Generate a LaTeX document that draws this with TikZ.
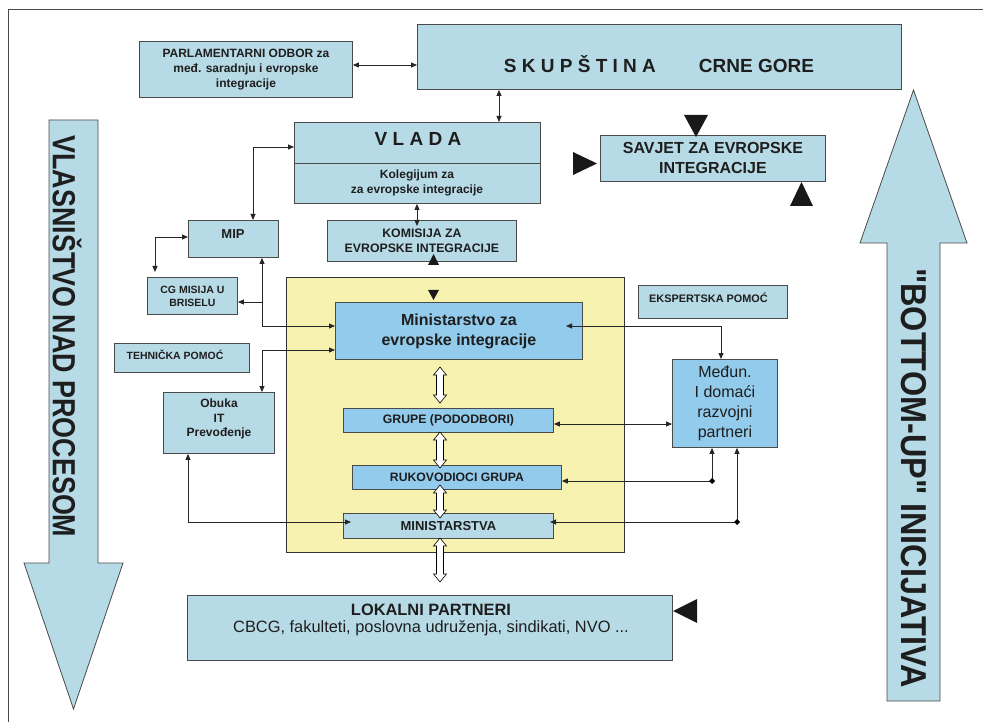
\documentclass[tikz,border=0pt]{standalone}
\usepackage{fontspec}
\setmainfont{Liberation Sans}
\newfontfamily\narrowa[FakeStretch=0.84]{Liberation Sans}
\newfontfamily\narrowb[FakeStretch=0.9]{Liberation Sans}
\usetikzlibrary{arrows.meta}
\definecolor{lb}{HTML}{B7DBE6}
\definecolor{mb}{HTML}{92CBEC}
\definecolor{yl}{HTML}{F8F2B0}
\definecolor{bd}{HTML}{4A4A4A}
\definecolor{tx}{HTML}{1E1E1E}
\newcommand{\hollowarr}[3]{%
  \draw[hollow] (#1,#2) -- ++(6.5,8) -- ++(-3,0) -- ++(0,{#3-#2-16}) -- ++(3,0) -- ++(-6.5,8) -- ++(-6.5,-8) -- ++(3,0) -- ++(0,{#2-#3+16}) -- ++(-3,0) -- cycle;}
\begin{document}
\begin{tikzpicture}[x=1pt,y=-1pt,
  box/.style={draw=bd, line width=0.9pt, fill=lb, anchor=north west, inner sep=0pt, align=center, text=tx},
  mbox/.style={box, fill=mb},
  lbl/.style={text=tx, align=center, inner sep=0pt},
  conn/.style={draw=black!85, line width=0.8pt},
  >={Triangle[length=6pt,width=5pt]},
  hollow/.style={draw=black, fill=white, line width=0.6pt, line join=miter},
  tri/.style={fill=black!90},
  big/.style={fill=lb, draw=bd, line width=0.8pt}
]
\useasboundingbox (0,0) rectangle (983,722);
\fill[white] (0,0) rectangle (983,722);
\draw[bd, line width=0.8pt] (983,9) -- (8,9) -- (8,722);

% big arrows
\draw[big] (49,120) -- (98,120) -- (98,563) -- (123,563) -- (73.5,709) -- (24,563) -- (49,563) -- cycle;
\draw[big] (887,701) -- (940,701) -- (940,243) -- (967,243) -- (913.5,90) -- (860,243) -- (887,243) -- cycle;
\node[lbl, rotate=-90, font=\narrowa\bfseries\fontsize{32pt}{36pt}\selectfont] (ltext) at (67,336.5) {VLASNIŠTVO NAD PROCESOM};
\node[lbl, rotate=-90, font=\narrowb\bfseries\fontsize{36pt}{40pt}\selectfont] (rtext) at (913.5,478) {"BOTTOM-UP" INICIJATIVA};

% yellow area
\node[box, fill=yl, draw=black!80, minimum width=338pt, minimum height=275pt] (yel) at (286,277) {};

% boxes
\node[box, minimum width=213pt, minimum height=56pt, font=\bfseries\fontsize{12pt}{15pt}\selectfont] (parl) at (139,41) {PARLAMENTARNI ODBOR za\\međ. saradnju i evropske\\integracije};
\node[box, minimum width=484pt, minimum height=65pt] (skup) at (417,24) {};
\node[lbl, font=\bfseries\fontsize{19pt}{23pt}\selectfont] (skupt) at (659,64) {S K U P Š T I N A\hspace{43pt}CRNE GORE};
\node[box, minimum width=246pt, minimum height=81pt] (vlada) at (294,122) {};
\draw[bd, line width=0.9pt] (vlada.west |- 0,163) -- (vlada.east |- 0,163);
\node[lbl, font=\bfseries\fontsize{19pt}{23pt}\selectfont] (vladat) at (418,139) {V L A D A};
\node[lbl, font=\bfseries\fontsize{12pt}{15pt}\selectfont] (kolt) at (417,183) {Kolegijum za\\za evropske integracije};
\node[box, minimum width=225pt, minimum height=46pt, font=\bfseries\fontsize{16pt}{20pt}\selectfont] (savjet) at (600,135) {SAVJET ZA EVROPSKE\\INTEGRACIJE};
\node[box, minimum width=90pt, minimum height=37pt] (mip) at (188,220) {};
\node[lbl, font=\bfseries\fontsize{13pt}{15pt}\selectfont] (mipt) at (233,234) {MIP};
\node[box, minimum width=189pt, minimum height=41pt, font=\bfseries\fontsize{12.3pt}{15pt}\selectfont] (kom) at (327,220) {KOMISIJA ZA\\EVROPSKE INTEGRACIJE};
\node[box, minimum width=90pt, minimum height=37pt, font=\bfseries\fontsize{10.5pt}{13pt}\selectfont] (cgm) at (147,277) {CG MISIJA U\\BRISELU};
\node[box, minimum width=135pt, minimum height=29pt] (teh) at (114,343) {};
\node[lbl, font=\bfseries\fontsize{10.5pt}{12pt}\selectfont] (teht) at (175,355) {TEHNIČKA POMOĆ};
\node[box, minimum width=111pt, minimum height=61pt] (obuka) at (163,392) {};
\node[lbl, font=\bfseries\fontsize{12pt}{14.5pt}\selectfont] (obukat) at (219,419) {Obuka\\IT\\Prevođenje};
\node[mbox, minimum width=247pt, minimum height=57pt, font=\bfseries\fontsize{16pt}{20pt}\selectfont] (mei) at (335,302) {Ministarstvo za\\evropske integracije};
\node[mbox, minimum width=210pt, minimum height=24pt, font=\bfseries\fontsize{12.3pt}{14pt}\selectfont] (grupe) at (343,408) {GRUPE (PODODBORI)};
\node[mbox, minimum width=209pt, minimum height=24pt, font=\bfseries\fontsize{12.2pt}{14pt}\selectfont] (ruk) at (352,465) {RUKOVODIOCI GRUPA};
\node[box, minimum width=210pt, minimum height=25pt, font=\bfseries\fontsize{13pt}{15pt}\selectfont] (min) at (343,513) {MINISTARSTVA};
\node[box, minimum width=149pt, minimum height=33pt] (eks) at (638,285) {};
\node[lbl, font=\bfseries\fontsize{10.9pt}{12pt}\selectfont] (ekst) at (708.5,298) {EKSPERTSKA POMOĆ};
\node[mbox, minimum width=105pt, minimum height=88pt, font=\fontsize{16pt}{20pt}\selectfont] (medun) at (672,359) {Međun.\\I domaći\\razvojni\\partneri};
\node[box, minimum width=485pt, minimum height=65pt] (lok) at (187,595) {};
\node[lbl, font=\fontsize{16.4pt}{17pt}\selectfont] (lokt) at (431,620) {\textbf{LOKALNI PARTNERI}\\CBCG, fakulteti, poslovna udruženja, sindikati, NVO ...};

% black triangles
\fill[tri] (684,115) -- (708,115) -- (696,137) -- cycle;
\fill[tri] (573,152) -- (573,175) -- (597,163.5) -- cycle;
\fill[tri] (790,206) -- (813,206) -- (801.5,182) -- cycle;
\fill[tri] (428,265) -- (439,265) -- (433.5,254) -- cycle;
\fill[tri] (428,290) -- (439,290) -- (433.5,300) -- cycle;
\fill[tri] (697,599) -- (697,623) -- (673,611) -- cycle;

% connectors
\draw[conn,<->] (parl.east |- 0,65) -- (skup.west |- 0,65);
\draw[conn,<->] (skup.south -| 499,0) -- (vlada.north -| 499,0);
\draw[conn,<->] (vlada.west |- 0,147) -| (mip.north -| 253,0);
\coordinate (cgtop) at (155,272);
\draw[conn,<->] (mip.west |- 0,237) -| (cgtop);
\draw[conn,<->] (mip.south -| 262,0) |- (mei.west |- 0,326);
\draw[conn,->] (262,302) -- (cgm.east |- 0,302);
\draw[conn,<->] (obuka.north -| 262,0) |- (mei.west |- 0,350);
\coordinate (minl) at (351,522);
\draw[conn,<->] (obuka.south -| 188,0) |- (minl);
\coordinate (komin) at (417,226);
\draw[conn,<->] (vlada.south -| 417,0) -- (komin);
\coordinate (meir) at (566,326);
\draw[conn,<->] (meir) -| (medun.north -| 721,0);
\draw[conn,<->] (grupe.east |- 0,424) -- (medun.west |- 0,424);
\coordinate (d1) at (712,481);
\coordinate (d2) at (737,522);
\draw[conn,->] (d1) -- (ruk.east |- 0,481);
\draw[conn,->] (d1) -- (medun.south -| 712,0);
\coordinate (minr) at (550,522);
\draw[conn,->] (d2) -- (minr);
\draw[conn,->] (d2) -- (medun.south -| 737,0);
\fill (d1) ++(-3,0) -- ++(3,-3) -- ++(3,3) -- ++(-3,3) -- cycle;
\fill (d2) ++(-3,0) -- ++(3,-3) -- ++(3,3) -- ++(-3,3) -- cycle;

% hollow double arrows
\hollowarr{440}{367}{403}
\hollowarr{440}{432}{468}
\hollowarr{440}{485}{518}
\hollowarr{440}{538}{582}
\end{tikzpicture}
\end{document}
